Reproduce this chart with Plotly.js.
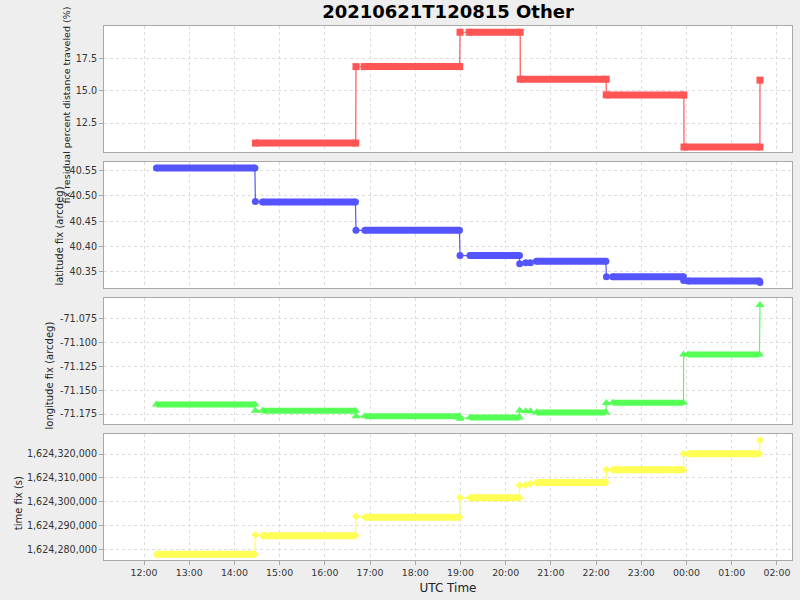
<!DOCTYPE html>
<html>
<head>
<meta charset="utf-8">
<script src="https://cdn.plot.ly/plotly-3.0.1.min.js"></script>
<style>html,body{margin:0;padding:0;background:#eeeeee;}</style>
</head>
<body>
<div id="chart" style="width:800px;height:600px;"></div>
<script>
// ---------- data ----------
// Bulk runs of fixes (start / end of each dense run), shared by latitude, longitude and time-fix panels
const runStart = ['2021-06-21 12:16:35','2021-06-21 14:37:20','2021-06-21 16:53:10','2021-06-21 19:12:30','2021-06-21 20:40:50','2021-06-21 22:22:00','2021-06-22 00:02:00'];
const runEnd   = ['2021-06-21 14:27:10','2021-06-21 16:40:40','2021-06-21 18:58:40','2021-06-21 20:18:20','2021-06-21 22:13:00','2021-06-21 23:56:00','2021-06-22 01:36:50'];
// isolated fixes (first point after each jump, and a few stragglers)
const jumpTime = ['2021-06-21 14:27:50','2021-06-21 16:41:20','2021-06-21 18:59:25','2021-06-21 20:18:35','2021-06-21 20:26:35','2021-06-21 20:32:50','2021-06-21 22:13:40','2021-06-21 23:56:10','2021-06-22 01:37:30'];

const latRun  = [40.555, 40.488, 40.432, 40.382, 40.371, 40.340, 40.332];
const latJump = [40.489, 40.432, 40.382, 40.366, 40.368, 40.368, 40.340, 40.333, 40.329];

const lonRun  = [-71.1648, -71.1716, -71.1772, -71.1786, -71.1734, -71.1631, -71.1124];
const lonJump = [-71.1716, -71.1773, -71.1800, -71.1712, -71.1720, -71.1720, -71.1633, -71.1124, -71.0605];

const tfixRun  = [1624277900, 1624285700, 1624293500, 1624301600, 1624308000, 1624313400, 1624320100];
const tfixJump = [1624286000, 1624293800, 1624301700, 1624306800, 1624307000, 1624307500, 1624313400, 1624320100, 1624325800];

// fix residual percent distance traveled
const pctRunStart = ['2021-06-21 14:28:00','2021-06-21 16:52:15','2021-06-21 19:11:35','2021-06-21 20:19:20','2021-06-21 22:13:30','2021-06-21 23:56:40'];
const pctRunEnd   = ['2021-06-21 16:41:00','2021-06-21 18:59:00','2021-06-21 20:19:15','2021-06-21 22:13:25','2021-06-21 23:56:30','2021-06-22 01:37:25'];
const pctRun      = [10.96, 16.85, 19.5, 15.88, 14.67, 10.65];
const pctJumpTime = ['2021-06-21 16:41:20','2021-06-21 18:59:25','2021-06-22 01:37:30'];
const pctJump     = [16.85, 19.5, 15.81];

// tick labels
const pctTicks  = [12.5, 15.0, 17.5];
const latTicks  = [40.35, 40.40, 40.45, 40.50, 40.55];
const lonTicks  = [-71.175, -71.150, -71.125, -71.100, -71.075];
const tfixTicks = [1624280000, 1624290000, 1624300000, 1624310000, 1624320000];

const titleText = '20210621T120815 Other';
const yTitles = ['fix residual percent distance traveled (%)', 'latitude fix (arcdeg)', 'longitude fix (arcdeg)', 'time fix (s)'];
const xTitle = 'UTC Time';

// ---------- build traces ----------
function allPoints(rs, re, rv, jt, jv) {
  const pts = [];
  for (let i = 0; i < rs.length; i++) { pts.push([rs[i], rv[i]]); pts.push([re[i], rv[i]]); }
  for (let i = 0; i < jt.length; i++) pts.push([jt[i], jv[i]]);
  pts.sort((a, b) => a[0] < b[0] ? -1 : (a[0] > b[0] ? 1 : 0));
  return pts;
}
function panelTraces(rs, re, rv, jt, jv, color, symbol, msize, bandW, xa, ya) {
  const pts = allPoints(rs, re, rv, jt, jv);
  const bx = [], by = [];
  for (let i = 0; i < rs.length; i++) { bx.push(rs[i], re[i], null); by.push(rv[i], rv[i], null); }
  return [
    {x: bx, y: by, xaxis: xa, yaxis: ya, type: 'scatter', mode: 'lines', line: {color: color, width: bandW}, connectgaps: false, hoverinfo: 'skip'},
    {x: pts.map(p => p[0]), y: pts.map(p => p[1]), xaxis: xa, yaxis: ya, type: 'scatter', mode: 'lines', line: {color: color, width: 1.2}},
    {x: pts.map(p => p[0]), y: pts.map(p => p[1]), xaxis: xa, yaxis: ya, type: 'scatter', mode: 'markers', marker: {color: color, symbol: symbol, size: msize, line: {width: 0}}}
  ];
}

const data = [].concat(
  panelTraces(pctRunStart, pctRunEnd, pctRun, pctJumpTime, pctJump, '#ff5555', 'square', 7, 7, 'x', 'y'),
  panelTraces(runStart, runEnd, latRun, jumpTime, latJump, '#5555ff', 'circle', 7, 7, 'x2', 'y2'),
  panelTraces(runStart, runEnd, lonRun, jumpTime, lonJump, '#55ff55', 'triangle-up', 8, 6, 'x3', 'y3'),
  panelTraces(runStart, runEnd, tfixRun, jumpTime, tfixJump, '#ffff55', 'diamond', 6, 7, 'x4', 'y4')
);

const xRange = ['2021-06-21 11:06:55', '2021-06-22 02:20:00'];
const gridC = '#dcdcdc', lineC = '#a8a8a8', tickFont = {family: 'DejaVu Sans', size: 9.6, color: '#333333'};

function xAxis(anchor, showLabels) {
  return {
    type: 'date', range: xRange, domain: [0, 1], anchor: anchor,
    tick0: '2021-06-21 00:00', dtick: 3600000, tickformat: '%H:%M',
    showgrid: true, gridcolor: gridC, griddash: '3px,3px', gridwidth: 1,
    showline: true, mirror: true, linecolor: lineC, linewidth: 1,
    zeroline: false, showticklabels: showLabels,
    ticks: showLabels ? 'outside' : '', ticklen: 4, tickcolor: lineC,
    tickfont: {family: 'DejaVu Sans', size: 9.4, color: '#333333'}
  };
}
function yAxis(anchor, dom, range, ticks, txt) {
  return {
    domain: dom, anchor: anchor, range: range,
    tickmode: 'array', tickvals: ticks, ticktext: ticks.map(txt),
    showgrid: true, gridcolor: gridC, griddash: '3px,3px', gridwidth: 1,
    showline: true, mirror: true, linecolor: lineC, linewidth: 1,
    zeroline: false, ticks: 'outside', ticklen: 4, tickcolor: lineC,
    tickfont: tickFont
  };
}

const yTitleFont = {family: 'DejaVu Sans', size: 10, color: '#222222'};
const layout = {
  width: 800, height: 600,
  paper_bgcolor: '#eeeeee', plot_bgcolor: '#ffffff',
  margin: {l: 104, r: 8, t: 26, b: 40},
  showlegend: false,
  title: {text: titleText, font: {family: 'DejaVu Sans', size: 18, color: '#000000', weight: 'bold'}, x: 0.5, xref: 'paper', xanchor: 'center', y: 0.98, yref: 'container', yanchor: 'middle'},
  xaxis: xAxis('y', false),
  xaxis2: xAxis('y2', false),
  xaxis3: xAxis('y3', false),
  xaxis4: Object.assign(xAxis('y4', true), {title: {text: xTitle, font: {family: 'DejaVu Sans', size: 12, color: '#222222'}, standoff: 6}}),
  yaxis:  yAxis('x',  [0.764, 1.0],    [10.27, 19.98],        pctTicks,  v => v.toFixed(1)),
  yaxis2: yAxis('x2', [0.5094, 0.7453], [40.318, 40.567],      latTicks,  v => v.toFixed(2)),
  yaxis3: yAxis('x3', [0.2547, 0.4906], [-71.1854, -71.0531],  lonTicks,  v => v.toFixed(3)),
  yaxis4: yAxis('x4', [0.0, 0.236],     [1624275500, 1624328420], tfixTicks, v => v.toLocaleString('en-US')),
  annotations: [
    {text: yTitles[0], xref: 'paper', yref: 'paper', x: -0.0542, y: 0.8525, textangle: -90, showarrow: false, xanchor: 'center', yanchor: 'middle', font: {family: 'DejaVu Sans', size: 9.5, color: '#222222'}},
    {text: yTitles[1], xref: 'paper', yref: 'paper', x: -0.0661, y: 0.6067, textangle: -90, showarrow: false, xanchor: 'center', yanchor: 'middle', font: yTitleFont},
    {text: yTitles[2], xref: 'paper', yref: 'paper', x: -0.0785, y: 0.3455, textangle: -90, showarrow: false, xanchor: 'center', yanchor: 'middle', font: yTitleFont},
    {text: yTitles[3], xref: 'paper', yref: 'paper', x: -0.125,  y: 0.1062, textangle: -90, showarrow: false, xanchor: 'center', yanchor: 'middle', font: yTitleFont}
  ]
};

Plotly.newPlot('chart', data, layout, {staticPlot: true, displayModeBar: false});
</script>
</body>
</html>
